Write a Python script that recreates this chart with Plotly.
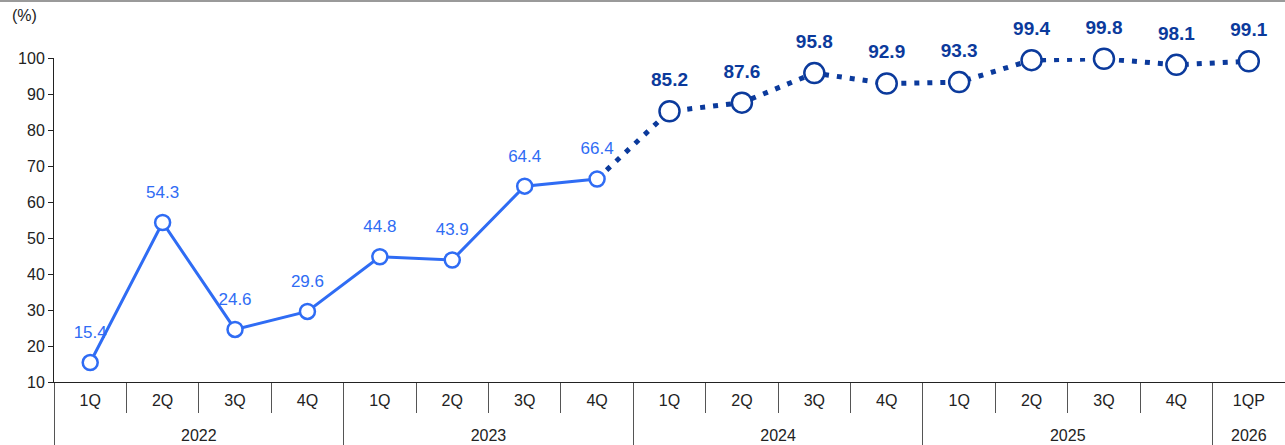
import plotly.graph_objects as go

years = ["2022"] * 4 + ["2023"] * 4 + ["2024"] * 4 + ["2025"] * 4 + ["2026"]
quarters = ["1Q", "2Q", "3Q", "4Q"] * 4 + ["1QP"]
values = [15.4, 54.3, 24.6, 29.6, 44.8, 43.9, 64.4, 66.4,
          85.2, 87.6, 95.8, 92.9, 93.3, 99.4, 99.8, 98.1, 99.1]
split = 7  # last actual point index (4Q 2023)

BRIGHT = "#2F6CF4"
DARK = "#0B3A9C"
FONT = "Liberation Sans Narrow, Arial Narrow, Liberation Sans, Arial, sans-serif"

idx = list(range(len(quarters)))
# year groups: centre positions and boundaries derived from the category list
year_names, year_first, year_last = [], [], []
for i, y in enumerate(years):
    if not year_names or year_names[-1] != y:
        year_names.append(y)
        year_first.append(i)
        year_last.append(i)
    else:
        year_last[-1] = i
year_centres = [(a + b) / 2 for a, b in zip(year_first, year_last)]
year_bounds = [a - 0.5 for a in year_first]
quarter_bounds = [i + 0.5 for i in idx[:-1]]

act_x, act_y = idx[:split + 1], values[:split + 1]
proj_x, proj_y = idx[split + 1:], values[split + 1:]

fig = go.Figure()

fig.add_trace(go.Scatter(
    x=act_x, y=act_y, mode="lines", cliponaxis=False,
    line=dict(color=BRIGHT, width=3), hoverinfo="skip", showlegend=False))

fig.add_trace(go.Scatter(
    x=idx[split:], y=values[split:], mode="lines", cliponaxis=False,
    line=dict(color=DARK, width=5, dash="5px,8px"),
    hoverinfo="skip", showlegend=False))

fig.add_trace(go.Scatter(
    x=act_x, y=act_y, mode="markers", cliponaxis=False,
    marker=dict(size=15, color="white", line=dict(color=BRIGHT, width=2.5)),
    showlegend=False))

fig.add_trace(go.Scatter(
    x=proj_x, y=proj_y, mode="markers", cliponaxis=False,
    marker=dict(size=20, color="white", line=dict(color=DARK, width=2.5)),
    showlegend=False))

# value labels (transparent markers set the label offset)
fig.add_trace(go.Scatter(
    x=act_x, y=act_y, mode="markers+text",
    marker=dict(size=31, opacity=0),
    text=[f"{v:.1f}" for v in act_y], textposition="top center",
    textfont=dict(family=FONT, size=17, color=BRIGHT),
    cliponaxis=False, hoverinfo="skip", showlegend=False))

fig.add_trace(go.Scatter(
    x=proj_x, y=proj_y, mode="markers+text",
    marker=dict(size=31, opacity=0),
    text=[f"{v:.1f}" for v in proj_y], textposition="top center",
    textfont=dict(family=FONT, size=19, color=DARK, weight="bold"),
    cliponaxis=False, hoverinfo="skip", showlegend=False))

fig.update_layout(
    width=1285, height=445,
    margin=dict(l=54, r=0, t=58, b=63),
    paper_bgcolor="white", plot_bgcolor="white",
    font=dict(family=FONT, size=16, color="#222"),
    xaxis=dict(
        range=[-0.5, len(idx) - 0.5], autorange=False,
        tickmode="array", tickvals=idx, ticktext=quarters,
        ticks="", ticklabelstandoff=4,
        showline=True, linecolor="#222", linewidth=1,
        showgrid=False, zeroline=False,
        minor=dict(tickmode="array", tickvals=quarter_bounds, ticks="outside",
                   ticklen=30, tickcolor="#555", tickwidth=1, showgrid=False),
        tickfont=dict(family=FONT, size=16, color="#222")),
    xaxis2=dict(
        overlaying="x", anchor="y", side="bottom",
        range=[-0.5, len(idx) - 0.5], autorange=False,
        tickmode="array", tickvals=year_centres, ticktext=year_names,
        ticks="", ticklabelstandoff=42,
        showline=False, showgrid=False, zeroline=False,
        minor=dict(tickmode="array", tickvals=year_bounds, ticks="outside",
                   ticklen=63, tickcolor="#555", tickwidth=1, showgrid=False),
        tickfont=dict(family=FONT, size=16, color="#222")),
    yaxis=dict(
        range=[10, 100], autorange=False, dtick=10, showline=True,
        linecolor="#222", linewidth=1,
        ticks="outside", ticklen=5, tickcolor="#222", showgrid=False,
        zeroline=False, tickfont=dict(family=FONT, size=16, color="#222")),
    annotations=[dict(text="(%)", xref="paper", yref="paper", x=-0.036, y=1.13,
                      xanchor="left", yanchor="middle", showarrow=False,
                      font=dict(family=FONT, size=16, color="#222"))],
    shapes=[dict(type="line", xref="paper", yref="paper", x0=-0.05, x1=1.0,
                 y0=1 + 57 / 324, y1=1 + 57 / 324,
                 line=dict(color="#9A9A9A", width=2))],
)

# dummy trace so the overlaying year axis is rendered
fig.add_trace(go.Scatter(x=[None], y=[None], xaxis="x2", showlegend=False,
                         hoverinfo="skip"))

fig.write_html("out.html", config={"displayModeBar": False},
               post_script="document.body.style.margin='0';document.body.style.overflow='hidden';")
